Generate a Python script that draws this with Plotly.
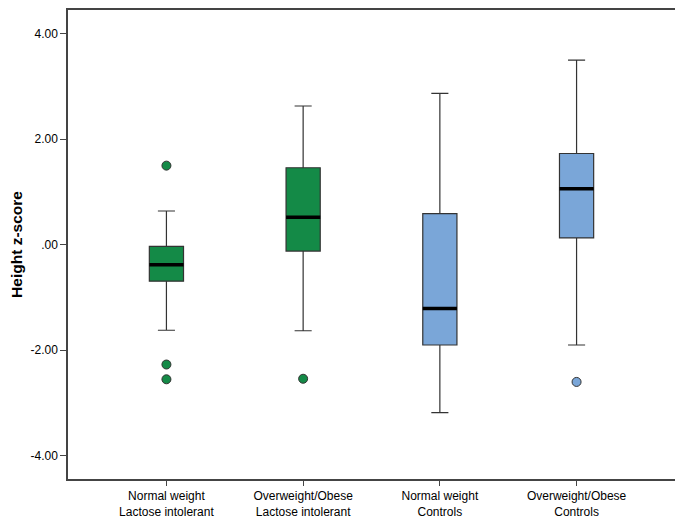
import plotly.graph_objects as go

categories = ["Normal weight<br>Lactose intolerant", "Overweight/Obese<br>Lactose intolerant",
              "Normal weight<br>Controls", "Overweight/Obese<br>Controls"]
lower_whisker = [-1.62, -1.63, -3.18, -1.90]
q1 = [-0.69, -0.12, -1.90, 0.13]
median = [-0.38, 0.52, -1.21, 1.06]
q3 = [-0.03, 1.46, 0.59, 1.73]
upper_whisker = [0.64, 2.63, 2.87, 3.50]
outliers = [[1.50, -2.27, -2.55], [-2.54], [], [-2.60]]
colors = ["#148A47", "#148A47", "#7AA6D8", "#7AA6D8"]

ytick_vals = [4, 2, 0, -2, -4]
ytick_text = ["4.00", "2.00", ".00", "-2.00", "-4.00"]

BOX_W = 0.25
fig = go.Figure()
for i, cat in enumerate(categories):
    fig.add_trace(go.Box(
        x=[i], q1=[q1[i]], median=[median[i]], q3=[q3[i]],
        lowerfence=[lower_whisker[i]], upperfence=[upper_whisker[i]],
        fillcolor=colors[i], line=dict(color="#333333", width=1.2),
        width=BOX_W, whiskerwidth=0.5, boxpoints=False, showlegend=False,
        hoverinfo="skip"))
    # thick median line
    fig.add_trace(go.Scatter(
        x=[i - BOX_W / 2, i + BOX_W / 2], y=[median[i], median[i]],
        mode="lines", line=dict(color="black", width=3.5),
        showlegend=False, hoverinfo="skip"))
    if outliers[i]:
        fig.add_trace(go.Scatter(
            x=[i] * len(outliers[i]), y=outliers[i], mode="markers",
            marker=dict(color=colors[i], size=9, line=dict(color="#333333", width=1)),
            showlegend=False, hoverinfo="skip"))

# page body adds an 8px offset; margins compensate for it
fig.update_layout(
    width=675, height=511,
    margin=dict(l=60, r=8, t=0, b=39),
    paper_bgcolor="white", plot_bgcolor="white",
    font=dict(family="Liberation Sans, Arial, sans-serif", color="black", size=12),
    xaxis=dict(range=[-0.72, 3.72], tickvals=[0, 1, 2, 3], ticktext=categories,
               showgrid=False, zeroline=False, showline=True, linecolor="#444444",
               linewidth=1.5, mirror=True, ticks="outside", ticklen=5, tickcolor="#444444",
               tickfont=dict(size=12)),
    yaxis=dict(range=[-4.44, 4.45], tickvals=ytick_vals, ticktext=ytick_text,
               showgrid=False, zeroline=False, showline=True, linecolor="#444444",
               linewidth=1.5, mirror=True, ticks="outside", ticklen=6, tickcolor="#444444",
               tickfont=dict(size=12),
               title=dict(text="<b>Height z-score</b>", font=dict(size=15.5), standoff=8)),
)

fig.write_html("out.html")
